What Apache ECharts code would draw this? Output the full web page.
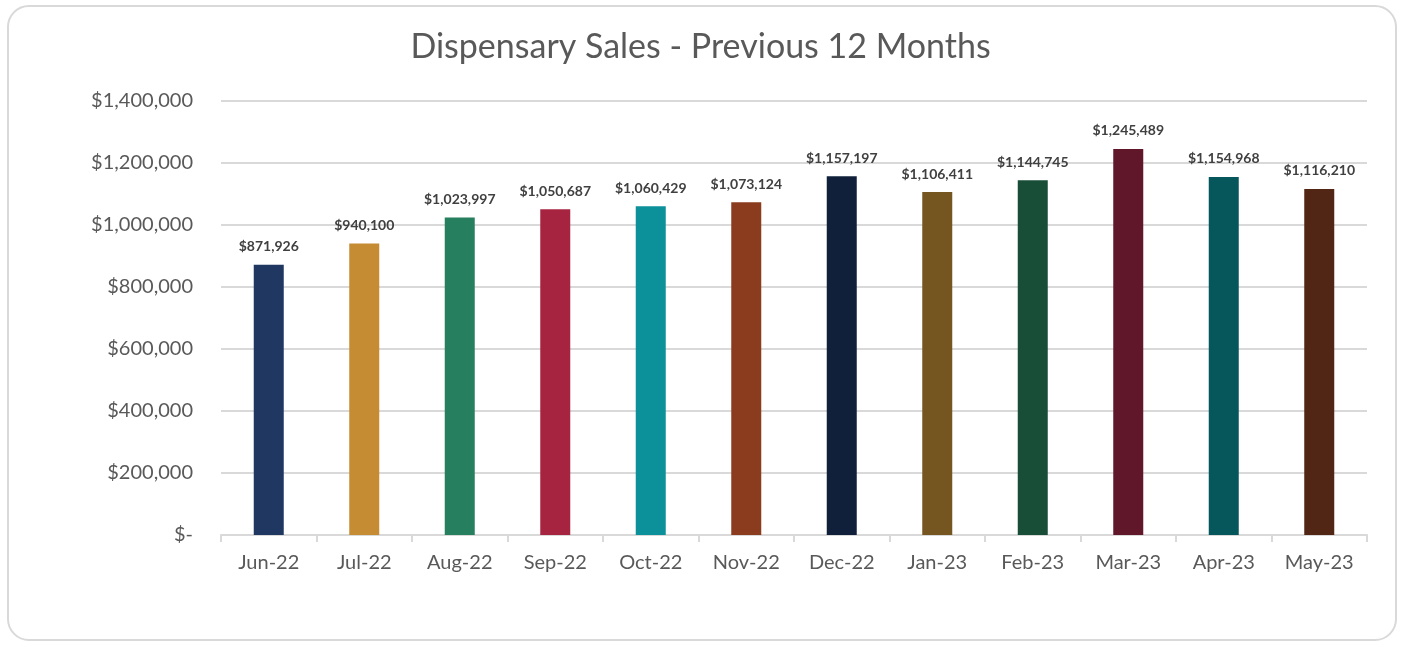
<!DOCTYPE html>
<html>
<head>
<meta charset="utf-8">
<script src="https://cdn.jsdelivr.net/npm/echarts@6/dist/echarts.min.js"></script>
<style>
  html, body { margin: 0; padding: 0; background: #fff; }
  #frame {
    position: absolute; left: 7px; top: 5px; width: 1390px; height: 636px;
    border: 2px solid #d9d9d9; border-radius: 22px; box-sizing: border-box;
  }
  #chart { position: absolute; left: 0; top: 0; width: 1401px; height: 647px; }
</style>
</head>
<body>
<div id="frame"></div>
<div id="chart"></div>
<script>
// months and sales
const months = ['Jun-22', 'Jul-22', 'Aug-22', 'Sep-22', 'Oct-22', 'Nov-22',
  'Dec-22', 'Jan-23', 'Feb-23', 'Mar-23', 'Apr-23', 'May-23']
const sales = [871926, 940100, 1023997, 1050687, 1060429, 1073124,
  1157197, 1106411, 1144745, 1245489, 1154968, 1116210]
const barColors = ['#1f3761', '#c58c33', '#267f5e', '#a72440', '#0c919b', '#8b3c1f',
  '#10203b', '#765620', '#184d38', '#61172a', '#06575c', '#522615']

const fontName = 'Lato, "Open Sans", sans-serif'
const money = v => v === 0 ? '$-' : '$' + v.toLocaleString('en-US')

const chart = echarts.init(document.getElementById('chart'))
chart.setOption({
  animation: false,
  title: {
    text: 'Dispensary Sales - Previous 12 Months',
    left: 'center',
    top: 25,
    textStyle: { fontFamily: fontName, fontSize: 34, fontWeight: 'normal', color: '#595959' }
  },
  grid: { left: 221, right: 34, top: 101, bottom: 112 },
  xAxis: {
    type: 'category',
    data: months,
    axisLine: { lineStyle: { color: '#d9d9d9', width: 2 } },
    axisTick: { show: true, length: 7, lineStyle: { color: '#d9d9d9', width: 2 } },
    axisLabel: { fontFamily: fontName, fontSize: 20, color: '#595959', margin: 18 }
  },
  yAxis: {
    type: 'value',
    min: 0,
    max: 1400000,
    interval: 200000,
    axisLabel: { fontFamily: fontName, fontSize: 20, color: '#595959', margin: 28, formatter: money },
    splitLine: { lineStyle: { color: '#d9d9d9', width: 2 } }
  },
  series: [{
    type: 'bar',
    data: sales.map((v, i) => ({ value: v, itemStyle: { color: barColors[i] } })),
    barWidth: 30,
    label: {
      show: true,
      position: 'top',
      distance: 11,
      fontFamily: fontName,
      fontSize: 14,
      fontWeight: 'bold',
      color: '#404040',
      formatter: p => money(p.value)
    }
  }]
})
</script>
</body>
</html>
